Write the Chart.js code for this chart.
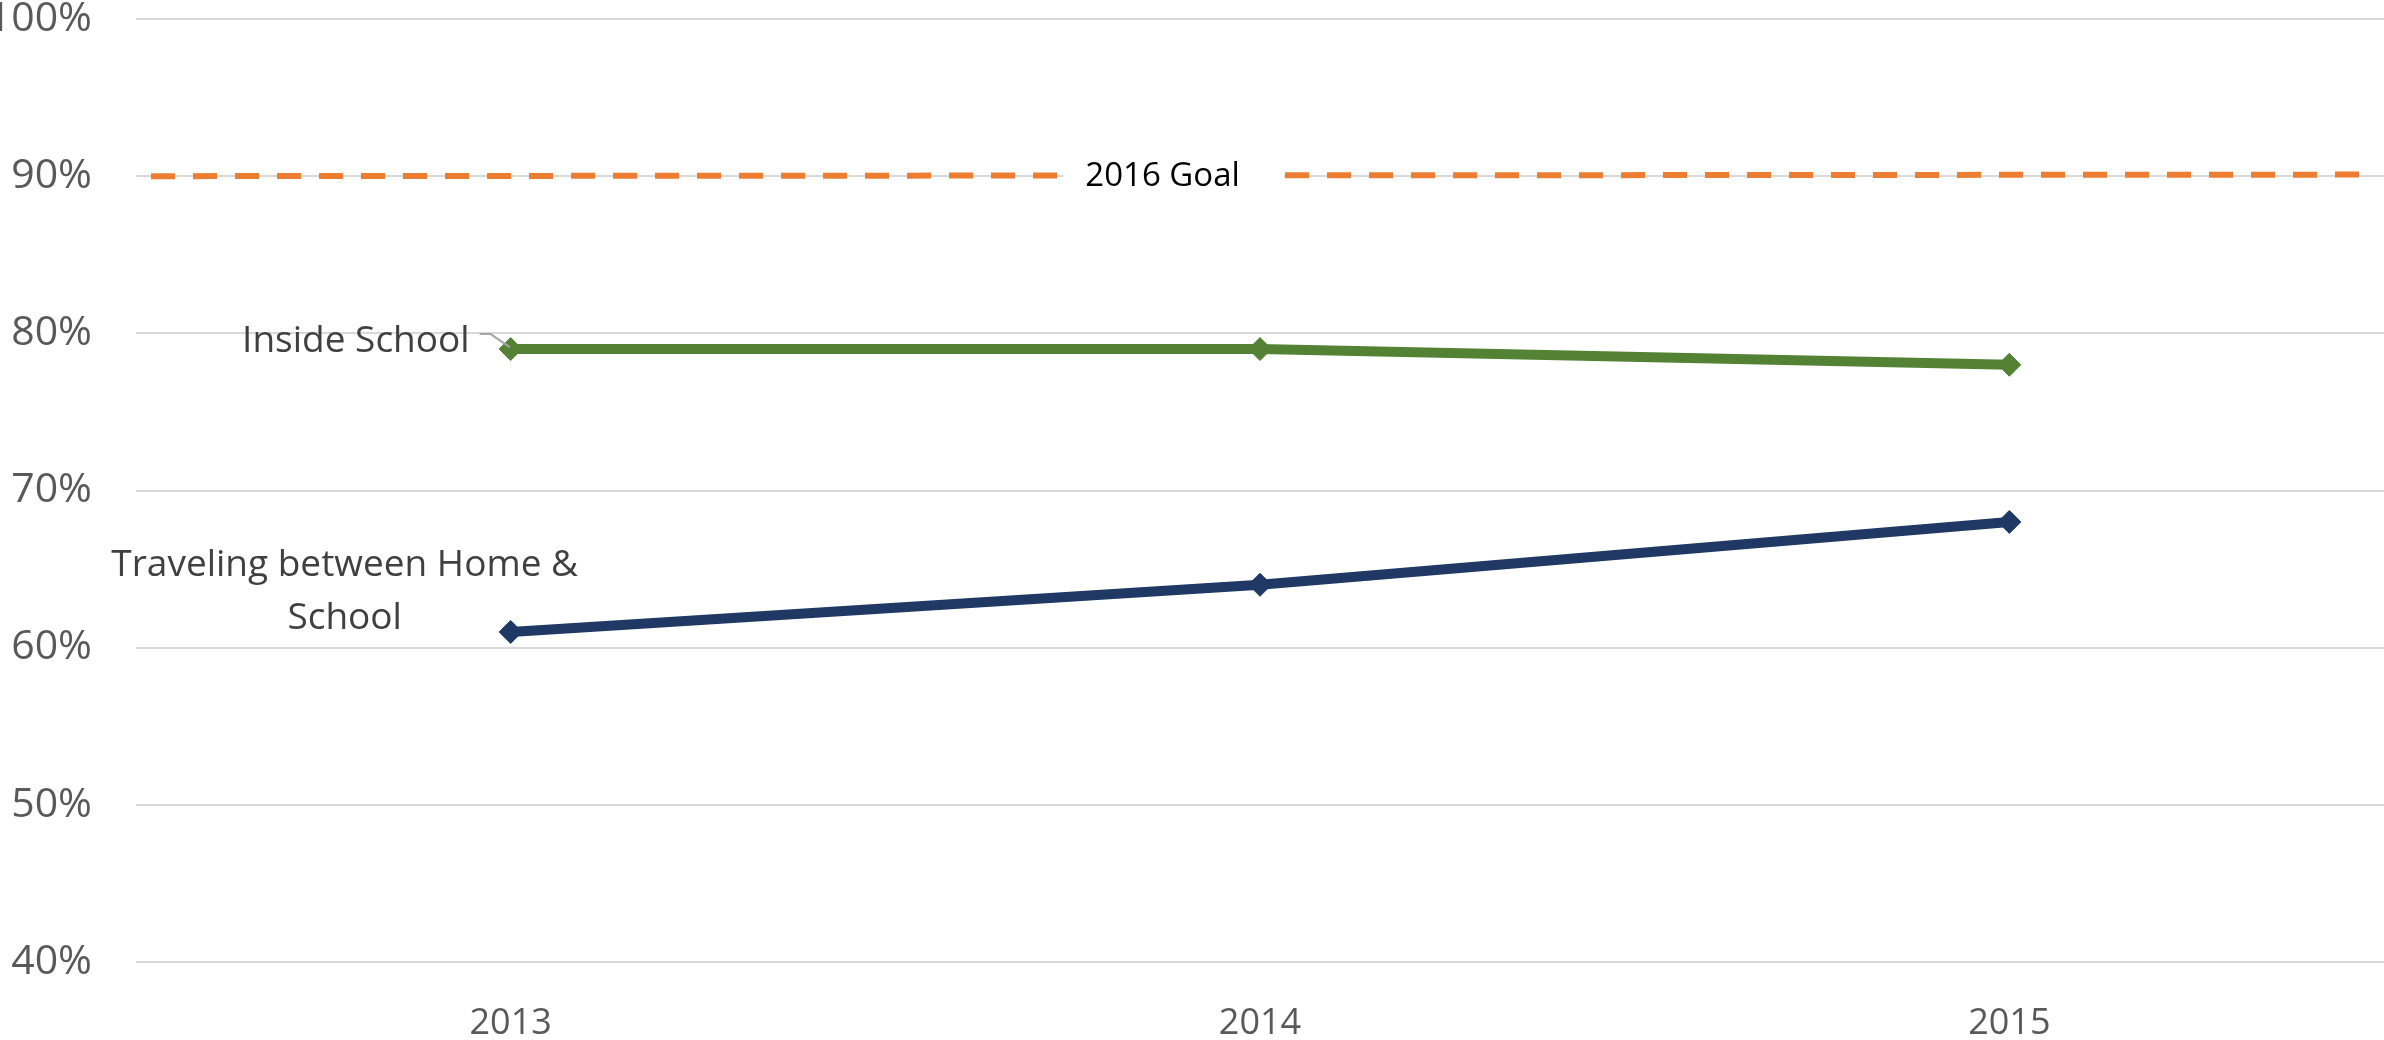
<!DOCTYPE html>
<html>
<head>
<meta charset="utf-8">
<script src="https://cdn.jsdelivr.net/npm/chart.js@4.4.0/dist/chart.umd.min.js"></script>
<style>
  html, body { margin: 0; padding: 0; background: #ffffff; overflow: hidden; }
  canvas { display: block; }
</style>
</head>
<body>
<canvas id="schoolChart" width="2384" height="1040"></canvas>
<script>
const years = ["2013", "2014", "2015"];
const insideSchool = [0.79, 0.79, 0.78];
const travelingHomeSchool = [0.61, 0.64, 0.68];

// goal line runs across the whole plot (category coordinates, -0.5 .. 2.5)
const goalX = [-0.48, 2.48];
const goalY = [0.900, 0.901];
const goalLabelAt = 0.87;

const yTicks = [0.4, 0.5, 0.6, 0.7, 0.8, 0.9, 1.0];

const FONT = "'Open Sans', 'Noto Sans', sans-serif";

// series labels and the "2016 Goal" label
const seriesLabels = {
    id: "seriesLabels",
    afterDatasetsDraw(chart) {
        const ctx = chart.ctx;
        const gx = chart.scales.xGoal;
        const y = chart.scales.y;

        ctx.save();

        // 2016 Goal with white box behind it
        const gxPx = gx.getPixelForValue(goalLabelAt);
        const gyPx = y.getPixelForValue(goalY[0]);
        ctx.font = "33px " + FONT;
        const w = ctx.measureText("2016 Goal").width;
        ctx.fillStyle = "#ffffff";
        ctx.fillRect(gxPx - w / 2 - 22, gyPx - 22, w + 66, 44);
        ctx.fillStyle = "#000000";
        ctx.textAlign = "center";
        ctx.textBaseline = "alphabetic";
        ctx.fillText("2016 Goal", gxPx, gyPx + 10);

        // Inside School
        const p0 = chart.getDatasetMeta(0).data[0];
        ctx.strokeStyle = "#a6a6a6";
        ctx.lineWidth = 2;
        ctx.beginPath();
        ctx.moveTo(p0.x - 31, p0.y - 15);
        ctx.lineTo(p0.x - 20, p0.y - 15);
        ctx.lineTo(p0.x - 1, p0.y - 2);
        ctx.stroke();

        ctx.font = "37px " + FONT;
        ctx.fillStyle = "#404040";
        ctx.textAlign = "right";
        ctx.fillText("Inside School", p0.x - 41, p0.y + 3);

        // Traveling between Home & School
        const p1 = chart.getDatasetMeta(1).data[0];
        ctx.textAlign = "center";
        ctx.fillText("Traveling between Home &", p1.x - 166, p1.y - 56);
        ctx.fillText("School", p1.x - 166, p1.y - 3);

        ctx.restore();
    }
};

function noSidePadding(scale) {
    scale.paddingLeft = 0;
    scale.paddingRight = 0;
}

const ctx = document.getElementById("schoolChart").getContext("2d");

new Chart(ctx, {
    type: "line",
    data: {
        labels: years,
        datasets: [
            {
                label: "Inside School",
                data: insideSchool,
                borderColor: "#548235",
                backgroundColor: "#548235",
                borderWidth: 10,
                pointStyle: "rectRot",
                pointRadius: 11.5,
                pointBorderWidth: 1,
                tension: 0,
                order: 2
            },
            {
                label: "Traveling between Home & School",
                data: travelingHomeSchool,
                borderColor: "#203864",
                backgroundColor: "#203864",
                borderWidth: 10,
                pointStyle: "rectRot",
                pointRadius: 11.5,
                pointBorderWidth: 1,
                tension: 0,
                order: 3
            },
            {
                label: "2016 Goal",
                xAxisID: "xGoal",
                data: goalX.map((x, i) => ({ x: x, y: goalY[i] })),
                borderColor: "#ed7d31",
                borderWidth: 6,
                borderDash: [24, 18],
                borderCapStyle: "butt",
                pointRadius: 0,
                order: 1
            }
        ]
    },
    options: {
        responsive: false,
        animation: false,
        layout: {
            // autoPadding would keep room for the markers on the right
            autoPadding: false,
            padding: { top: 19, left: 0, right: 0, bottom: 0 }
        },
        plugins: {
            legend: { display: false },
            tooltip: { enabled: false }
        },
        scales: {
            x: {
                offset: true,
                grid: { display: false },
                border: { display: false },
                ticks: {
                    color: "#595959",
                    font: { family: FONT, size: 36 },
                    padding: 32,
                    maxRotation: 0
                },
                afterFit(scale) {
                    scale.height = 78;
                    noSidePadding(scale);
                }
            },
            xGoal: {
                type: "linear",
                axis: "x",
                position: "bottom",
                display: false,
                min: -0.5,
                max: 2.5,
                ticks: { padding: 0, callback: () => "" },
                afterFit(scale) {
                    scale.height = 0;
                    noSidePadding(scale);
                }
            },
            y: {
                min: 0.4,
                max: 1.0,
                afterBuildTicks(scale) {
                    scale.ticks = yTicks.map(v => ({ value: v }));
                },
                grid: {
                    color: "#d9d9d9",
                    lineWidth: 2,
                    drawTicks: false
                },
                border: { display: false },
                ticks: {
                    color: "#595959",
                    font: { family: FONT, size: 41 },
                    padding: 44,
                    callback: v => Math.round(v * 100) + "%"
                },
                afterFit(scale) {
                    scale.width = 136;
                    scale.paddingTop = 0;
                    scale.paddingBottom = 0;
                }
            }
        }
    },
    plugins: [seriesLabels]
});
</script>
</body>
</html>
